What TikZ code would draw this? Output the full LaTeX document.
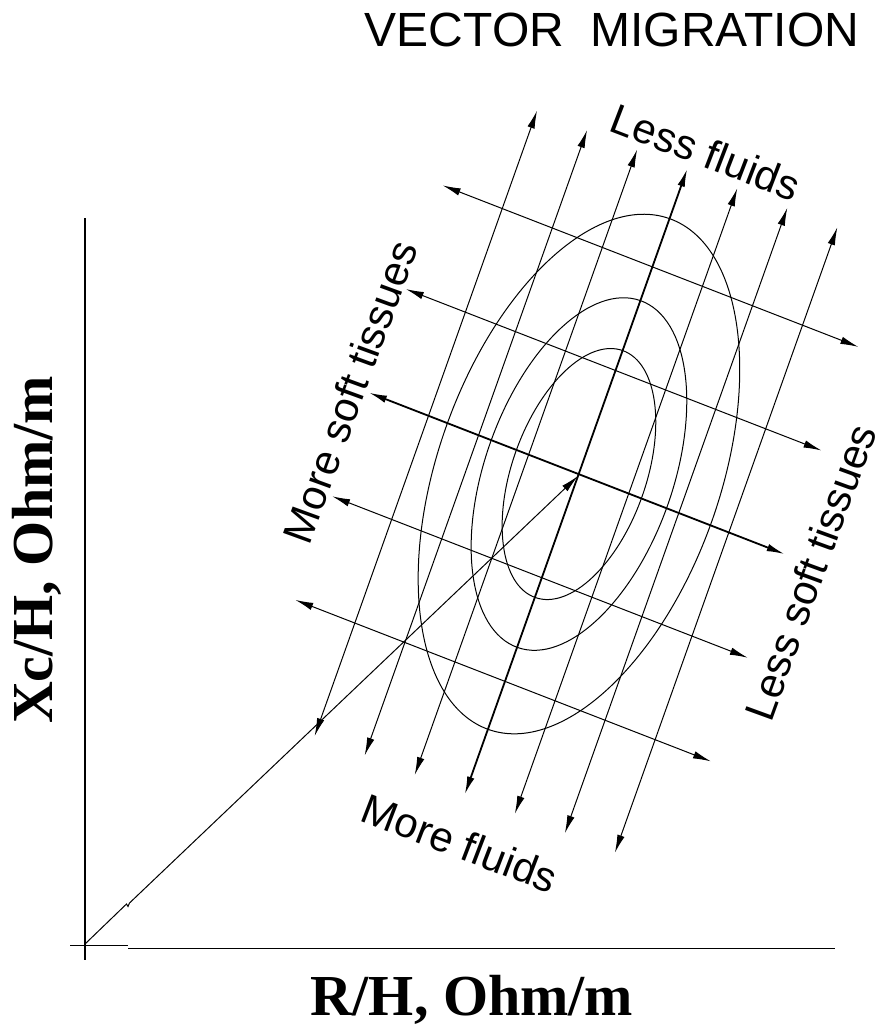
\documentclass[tikz,border=0pt]{standalone}
\usepackage{fontspec}
\setmainfont{Liberation Serif}
\newfontfamily\arialfont{Liberation Sans}
\usepackage{tikz}
\usetikzlibrary{arrows.meta}

\tikzset{
  thinvec/.style={line width=1pt, {Latex[length=18pt,width=7.5pt]}-{Latex[length=18pt,width=7.5pt]}},
  thickvec/.style={thinvec, line width=1.8pt},
  contour/.style={line width=1pt},
  axisline/.style={line width=1.4pt},
  tag/.style={font=\arialfont\fontsize{42}{42}\selectfont},
  axtag/.style={font=\bfseries\fontsize{58}{58}\selectfont}
}

\begin{document}
\begin{tikzpicture}[x=1pt,y=-1pt]
\useasboundingbox (0,0) rectangle (887,1029);

% axes with break marks
\coordinate (O) at (85,944);
\draw[axisline] (85,218) -- (85,960);
\draw[axisline] (70,945.5) -- (128,945.5);
\draw[axisline] (128,948.5) -- (835,948.5);

% rotated grid of migration vectors
\begin{scope}[shift={(578,476)}, x={(0.932pt,-0.362pt)}, y={(0.335pt,0.942pt)}]
\coordinate (C) at (0,0);
\foreach \k in {-3,-2,-1,1,2,3}
  \draw[thinvec] (\k*53.7,-338) -- (\k*53.7,326);
\draw[thickvec] (0,-338) -- (0,326);
\foreach \k in {-2,-1,1,2}
  \draw[thinvec] (-225,2+\k*110) -- (221,2+\k*110);
\draw[thickvec] (-225,2) -- (221,2);
\end{scope}

% tolerance ellipses
\coordinate (E) at (579,474);
\draw[contour, rotate around={70.5:(E)}] (E) ellipse [x radius=271pt, y radius=141pt];
\draw[contour, rotate around={70.5:(E)}] (E) ellipse [x radius=184pt, y radius=94pt];
\draw[contour, rotate around={70.5:(E)}] (E) ellipse [x radius=131pt, y radius=67pt];

% impedance vector
\draw[line width=1pt, -{Latex[length=18pt,width=7.5pt]}] (O) -- (126.5,904) -- (128,906.5) -- (129.5,903) -- (C);

% labels
\node[font=\arialfont\fontsize{48}{48}\selectfont] (title) at (612,30) {VECTOR\ \ MIGRATION};
\node[tag, rotate=-21] (lessfl) at (706,152) {Less fluids};
\node[tag, rotate=-21] (morefl) at (460,843) {More fluids};
\node[tag, rotate=70] (moret) at (350,392) {More soft tissues};
\node[tag, rotate=70] (lesst) at (810,572) {Less soft tissues};
\node[axtag] (xlab) at (472,1000) {R/H, Ohm/m};
\node[axtag, rotate=90] (ylab) at (37,550) {Xc/H, Ohm/m};
\end{tikzpicture}
\end{document}
